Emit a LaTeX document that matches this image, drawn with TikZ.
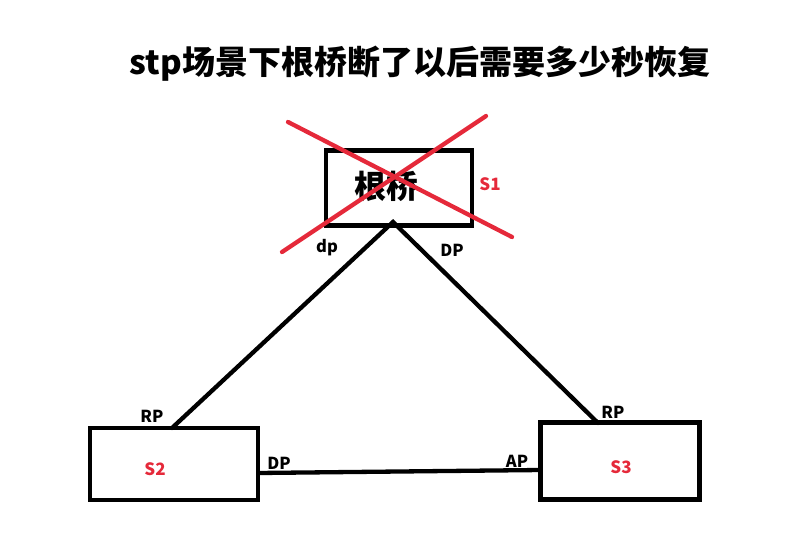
\documentclass[tikz,border=0pt]{standalone}
\usepackage{fontspec}
\newfontfamily\cjk{Noto Sans CJK SC}
\definecolor{xred}{HTML}{E5293A}
\begin{document}
\begin{tikzpicture}[x=1bp,y=-1bp,
  box/.style={draw=black,line width=4.6bp,inner sep=0pt},
  link/.style={draw=black,line width=4.3bp},
  lbl/.style={font=\cjk\bfseries\fontsize{16.5bp}{18bp}\selectfont,inner sep=0pt},
  rlbl/.style={font=\cjk\bfseries\fontsize{17bp}{19bp}\selectfont,text=xred,inner sep=0pt},
  cross/.style={draw=xred,line width=4.3bp}]
\useasboundingbox (0,0) rectangle (802,537);
\node[inner sep=0pt,font=\cjk\bfseries\fontsize{33bp}{36bp}\selectfont] (title) at (420,64) {stp场景下根桥断了以后需要多少秒恢复};
\node[box,minimum width=146bp,minimum height=75bp] (s1) at (399,188) {};
\node[inner sep=0pt,font=\cjk\bfseries\fontsize{32bp}{34bp}\selectfont] (root) at (386,186) {根桥};
\node[rlbl] (s1l) at (490,184) {S1};
\node[box,minimum width=168bp,minimum height=72bp] (s2) at (174,464) {};
\node[box,minimum width=159bp,minimum height=77bp] (s3) at (620,461) {};
\node[rlbl] (s2l) at (155,469) {S2};
\node[rlbl] (s3l) at (621,467) {S3};
\coordinate (apex) at (393,222);
\coordinate (s2top) at (172,428);
\coordinate (s3top) at (598,423);
\coordinate (s2r) at (258,473);
\coordinate (s3l) at (541,470);
\draw[link,line cap=round] (s2top) -- (apex) -- (s3top);
\draw[link] (s2r) -- (s3l);
\node[lbl] (dp1) at (327,248) {dp};
\node[lbl] (dp2) at (452,250) {DP};
\node[lbl] (rp2) at (152,416) {RP};
\node[lbl] (rp3) at (613,412) {RP};
\node[lbl] (dp3) at (279,463) {DP};
\node[lbl] (ap) at (517,461) {AP};
\coordinate (x1a) at (288,122);
\coordinate (x1b) at (512,237);
\coordinate (x2a) at (486,116);
\coordinate (x2b) at (282,252);
\draw[cross,line cap=round] (x1a) -- (x1b);
\draw[cross,line cap=round] (x2a) -- (x2b);
\end{tikzpicture}
\end{document}
